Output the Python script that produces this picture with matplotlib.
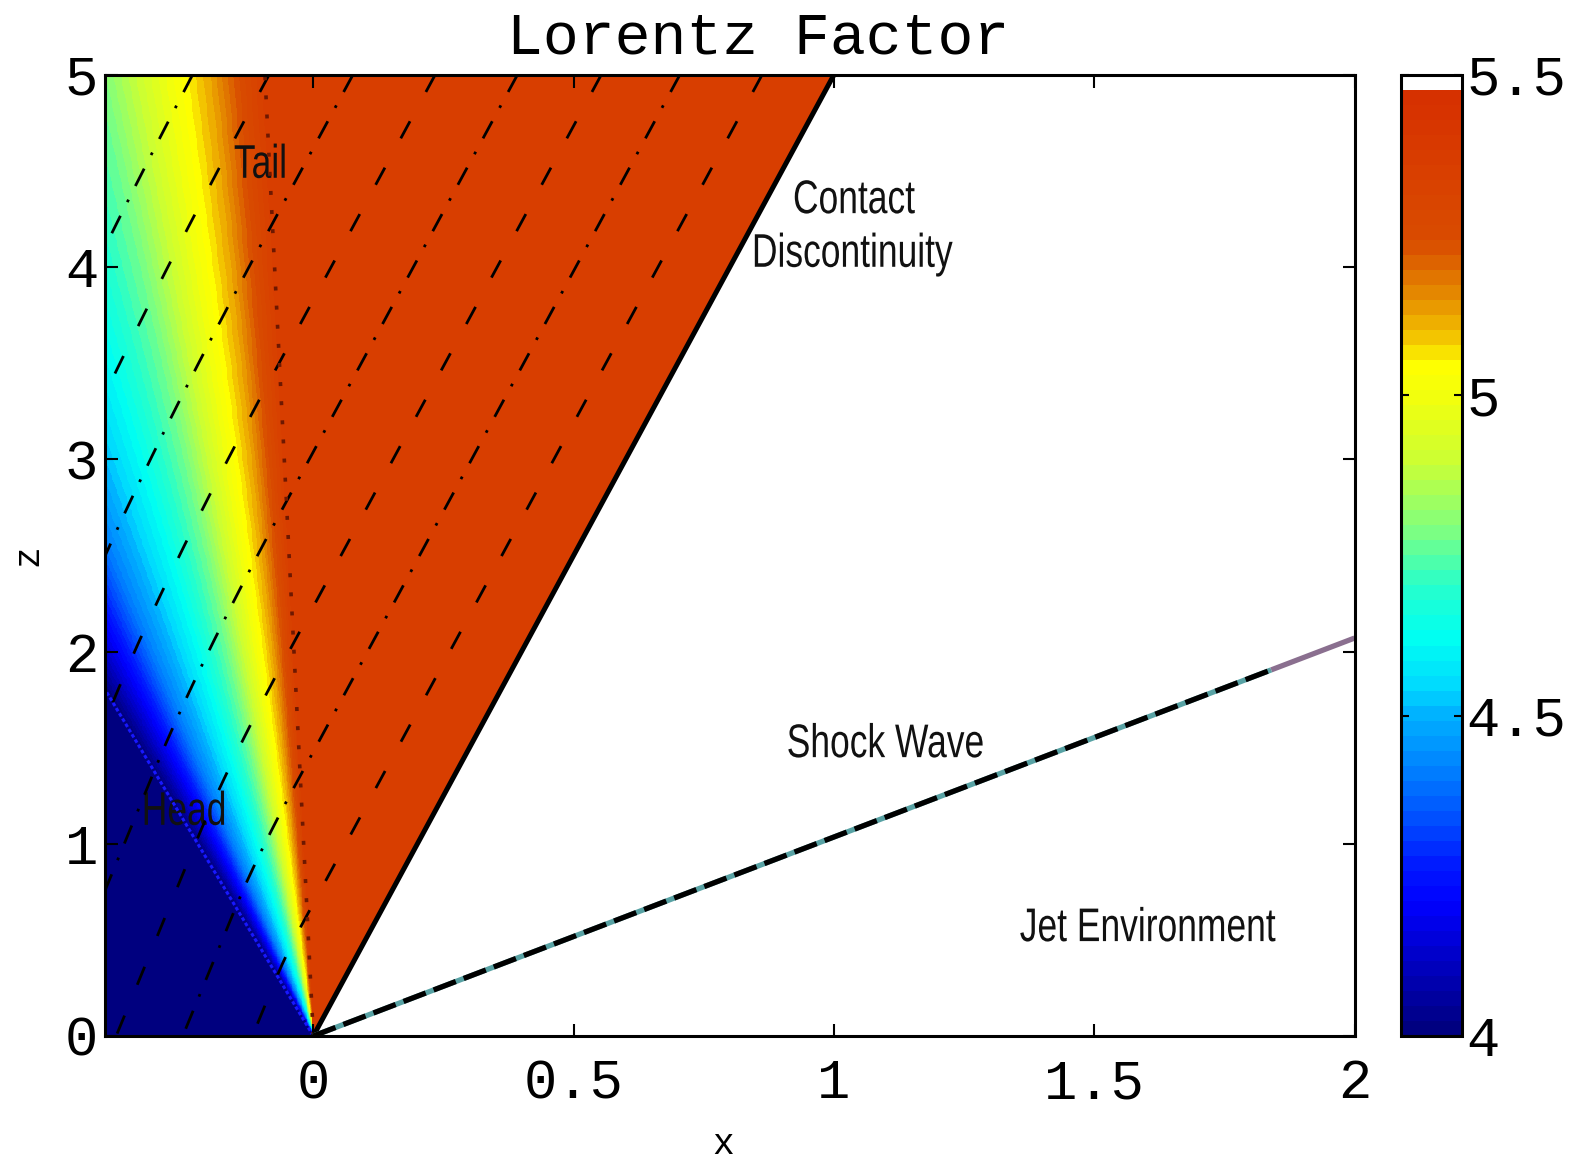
import numpy as np
import matplotlib.pyplot as plt
import matplotlib.transforms as mtransforms
from matplotlib.colors import LinearSegmentedColormap, Normalize
from matplotlib.textpath import TextPath
from matplotlib.patches import PathPatch
from matplotlib.font_manager import FontProperties

# Lorentz factor across the rarefaction fan as a function of xi = x/z
fan_xi = [-0.222, -0.205, -0.185, -0.156, -0.111, -0.082, -0.055, -0.039, -0.027, -0.0186]
fan_gamma = [4.0, 4.1, 4.22, 4.41, 4.62, 4.78, 5.0, 5.13, 5.26, 5.35]
gamma_plateau = 5.35   # between tail and contact discontinuity

xi_head = fan_xi[0]
xi_tail = fan_xi[-1]
contact_slope = 0.2        # x/z along the contact discontinuity
shock_end = (2.0, 2.07)

# transverse flow speed dx/dz at head and tail of the fan
flow_xi = [xi_head, xi_tail]
flow_u = [0.152, 0.2]

# streamlines, labelled by where they leave the top of the box (z = 5)
stream_xtop = [-0.232, -0.085, 0.076, 0.234, 0.392, 0.553, 0.704, 0.862]

x_ticks = [0, 0.5, 1, 1.5, 2]
x_labels = ['0', '0.5', '1', '1.5', '2']
z_ticks = [0, 1, 2, 3, 4, 5]
z_labels = ['0', '1', '2', '3', '4', '5']
cbar_ticks = [4, 4.5, 5, 5.5]
cbar_labels = ['4', '4.5', '5', '5.5']

# colour table (position, rgb)
cmap_pos = [0.0, 0.067, 0.133, 0.173, 0.22, 0.273, 0.333, 0.36, 0.413, 0.467,
            0.527, 0.6, 0.667, 0.70, 0.733, 0.773, 0.807, 0.83, 0.90, 0.985, 1.0]
cmap_rgb = [(0, 0, 0.5), (0, 0, 0.75), (0, 0, 1), (0, 0.1, 1), (0, 0.3, 1),
            (0, 0.5, 1), (0, 0.7, 1), (0, 0.85, 1), (0, 1, 0.95), (0.15, 1, 0.8),
            (0.5, 1, 0.5), (0.8, 1, 0.2), (0.95, 1, 0.05), (1, 1, 0),
            (0.95, 0.75, 0), (0.9, 0.55, 0), (0.87, 0.4, 0), (0.85, 0.3, 0),
            (0.85, 0.25, 0), (0.84, 0.19, 0), (1, 1, 1)]
cmap = LinearSegmentedColormap.from_list('lorentz', list(zip(cmap_pos, cmap_rgb)), N=64)
norm = Normalize(4.0, 5.5)

plt.rcParams['font.family'] = ['Liberation Mono', 'DejaVu Sans Mono']

fig = plt.figure(figsize=(15.85, 11.64), dpi=100)
ax = fig.add_axes([0.0663, 0.110, 0.7883, 0.8257])
cax = fig.add_axes([0.8839, 0.110, 0.0385, 0.8257])

# field
xg = np.linspace(-0.4, 2.0, 1500)
zg = np.linspace(0.0, 5.0, 1100)
X, Z = np.meshgrid(xg, zg)
XI = X / np.maximum(Z, 1e-6)
G = np.interp(XI, fan_xi, fan_gamma)
G = np.where(XI < xi_tail, G, gamma_plateau)
G = np.where(XI > contact_slope, np.nan, G)

im = ax.imshow(G, extent=(-0.4, 2.0, 0.0, 5.0), origin='lower', aspect='auto',
               cmap=cmap, norm=norm, interpolation='nearest')

# streamlines, integrated down from the top edge
zs = np.linspace(5.0, 0.0, 2501)
for k, x_top in enumerate(stream_xtop):
    xs = [x_top]
    for z0, z1 in zip(zs[:-1], zs[1:]):
        u = np.interp(xs[-1] / z0, flow_xi, flow_u)
        xs.append(xs[-1] + u * (z1 - z0))
    if k % 2 == 0:
        ax.plot(xs, zs, color='black', lw=2.0, dashes=(7, 5.5, 1, 5.5))
    else:
        ax.plot(xs, zs, color='black', lw=2.0, dashes=(7, 12))

# head and tail of the fan
ax.plot([0, 5 * xi_head], [0, 5], color='#1818ff', lw=2.2, dashes=(1.2, 0.8))
ax.plot([0, 5 * xi_tail], [0, 5], color='#6e1800', lw=2.6, dashes=(1.1, 4.2))

# contact discontinuity
ax.plot([0, 5 * contact_slope], [0, 5], color='black', lw=3.6, solid_capstyle='butt')

# shock wave
sx, sz = shock_end
f = 0.92
ax.plot([0, f * sx], [0, f * sz], color='#58a2a4', lw=3.8, solid_capstyle='butt')
ax.plot([f * sx, sx], [f * sz, sz], color='#8a6f8f', lw=3.8, solid_capstyle='butt')
ax.plot([0, f * sx], [0, f * sz], color='black', lw=3.8, dashes=(4.5, 1.6))

ax.set_xlim(-0.4, 2.0)
ax.set_ylim(0, 5)
ax.set_xticks(x_ticks)
ax.set_xticklabels(x_labels)
ax.set_yticks(z_ticks)
ax.set_yticklabels(z_labels)
ax.tick_params(direction='in', top=True, right=True, length=9, width=1.5,
               labelsize=40)
ax.tick_params(axis='x', pad=16)
ax.tick_params(axis='y', pad=5)
for s in ax.spines.values():
    s.set_linewidth(2.2)

ax.set_xlabel('x', fontsize=26)
ax.xaxis.set_label_coords(0.495, -0.113)
ax.xaxis.label.set_va('center')
ax.set_ylabel('z', fontsize=26)
ax.yaxis.set_label_coords(-0.0616, 0.50)
ax.yaxis.label.set_va('center')

fig.text(0.478, 0.967, 'Lorentz Factor', fontsize=43, ha='center', va='center')

# condensed region labels: glyph outlines squeezed horizontally
label_font = FontProperties(family='Liberation Sans', size=34)
cap_h = TextPath((0, 0), 'H', prop=label_font).get_extents().height


def narrow_text(x, y, s, ha='center', squeeze=0.75):
    path = TextPath((0, 0), s, prop=label_font)
    bb = path.get_extents()
    x0 = bb.x0 if ha == 'left' else 0.5 * (bb.x0 + bb.x1)
    k = fig.dpi / 72.0
    tr = (mtransforms.Affine2D().translate(-x0, -0.5 * cap_h).scale(squeeze * k, k)
          + mtransforms.ScaledTranslation(x, y, ax.transData))
    ax.add_patch(PathPatch(path, transform=tr, facecolor='#111111', lw=0))


narrow_text(-0.151, 4.549, 'Tail', ha='left')
narrow_text(-0.324, 1.183, 'Head', ha='left')
narrow_text(1.040, 4.365, 'Contact')
narrow_text(1.038, 4.086, 'Discontinuity')
narrow_text(1.099, 1.535, 'Shock Wave')
narrow_text(1.603, 0.578, 'Jet Environment')

cb = fig.colorbar(im, cax=cax, ticks=cbar_ticks)
cb.ax.set_yticklabels(cbar_labels)
cb.ax.tick_params(direction='in', left=True, right=True, length=6, width=1.5,
                  labelsize=40, pad=3)
cb.outline.set_linewidth(2.2)

fig.savefig('out.png', dpi=100)
